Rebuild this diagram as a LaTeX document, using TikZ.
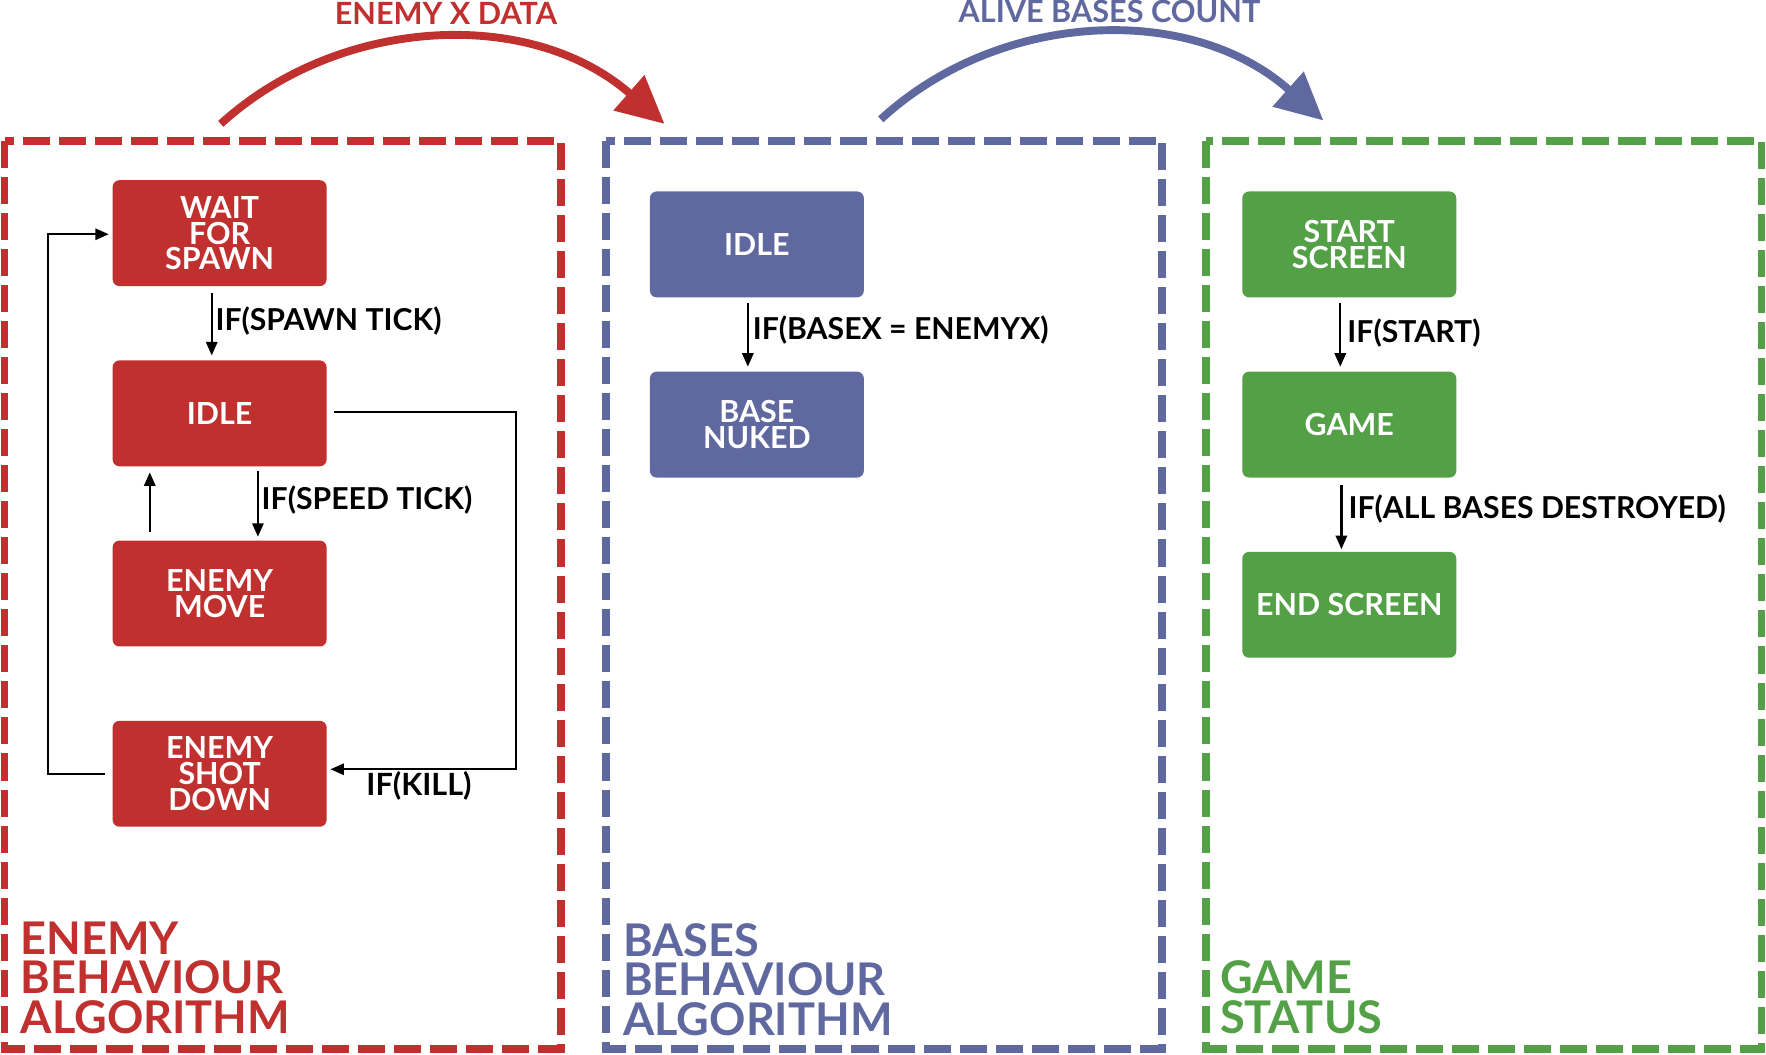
\documentclass[tikz,border=0pt]{standalone}
\usepackage{fontspec}
\setmainfont{Lato}
\usetikzlibrary{arrows.meta,calc}
\definecolor{cred}{HTML}{C0302F}
\definecolor{cblue}{HTML}{6068A0}
\definecolor{cgreen}{HTML}{53A047}
\tikzset{
 frame/.style={line width=3.5pt, dash pattern=on 12pt off 4pt},
 statebox/.style={rounded corners=3pt, minimum width=95pt, minimum height=47pt, text=white, align=center, font=\bfseries\fontsize{13.5}{11.5}\selectfont, inner sep=0pt},
 trans/.style={line width=1pt, -{Triangle[length=6pt,width=5pt]}},
 cond/.style={font=\bfseries\fontsize{13.4}{16}\selectfont, anchor=west, inner sep=0pt},
 bigarrow/.style={line width=3.5pt, -{Triangle[length=21pt,width=20pt]}},
 grouptitle/.style={font=\bfseries\fontsize{20}{17.5}\selectfont, align=left, anchor=south west, inner sep=0pt},
 flowlabel/.style={font=\bfseries\fontsize{13.6}{16}\selectfont, inner sep=0pt},
}
\begin{document}
\begin{tikzpicture}[x=0.5pt,y=-0.5pt]
\useasboundingbox (0,0) rectangle (1568,936);
% frames
\draw[frame, cred] (4,125) rectangle (498,931);
\draw[frame, cblue] (538,125) rectangle (1032,931);
\draw[frame, cgreen] (1071,125) rectangle (1564,931);

% red states
\node[statebox, fill=cred] (wait) at (195,207) {WAIT\\FOR\\SPAWN};
\node[statebox, fill=cred] (idle) at (195,367) {IDLE};
\node[statebox, fill=cred] (move) at (195,527) {ENEMY\\MOVE};
\node[statebox, fill=cred] (shot) at (195,687) {ENEMY\\SHOT\\DOWN};

% blue states
\node[statebox, fill=cblue] (bidle) at (672,217) {IDLE};
\node[statebox, fill=cblue] (bnuked) at (672,377) {BASE\\NUKED};

% green states
\node[statebox, fill=cgreen] (start) at (1198,217) {START\\SCREEN};
\node[statebox, fill=cgreen] (game) at (1198,377) {GAME};
\node[statebox, fill=cgreen] (endscr) at (1198,537) {END SCREEN};

% red transitions
\draw[trans] ($(wait.south)+(-7,6)$) -- ($(idle.north)+(-7,-4)$);
\node[cond] (l1) at (191,285) {IF(SPAWN TICK)};
\draw[trans] ($(idle.south)+(34,4)$) -- ($(move.north)+(34,-3)$);
\node[cond] (l2) at (232,444) {IF(SPEED TICK)};
\draw[trans] ($(move.north)+(-62,-7)$) -- ($(idle.south)+(-62,5)$);
\draw[trans] ($(idle.east)+(6,-1)$) -- ++(162,0) |- ($(shot.east)+(3,-4)$);
\node[flowlabel] (l3) at (372,698) {IF(KILL)};
\draw[trans] ($(shot.west)+(-6,0)$) -- ++(-51,0) |- ($(wait.west)+(-3,1)$);

% blue transition
\draw[trans] ($(bidle.south)+(-8,5)$) -- ($(bnuked.north)+(-8,-4)$);
\node[cond] (l4) at (668,293) {IF(BASEX = ENEMYX)};

% green transitions
\draw[trans] ($(start.south)+(-8,5)$) -- ($(game.north)+(-8,-4)$);
\node[cond] (l5) at (1196,296) {IF(START)};
\draw[trans] ($(game.south)+(-7,6)$) -- ($(endscr.north)+(-7,-2)$);
\node[cond] (l6) at (1197,452) {IF(ALL BASES DESTROYED)};

% group titles
\node[grouptitle, text=cred] (t1) at (18,918) {ENEMY\\BEHAVIOUR\\ALGORITHM};
\node[grouptitle, text=cblue] (t2) at (553,920) {BASES\\BEHAVIOUR\\ALGORITHM};
\node[grouptitle, text=cgreen] (t3) at (1083,918) {GAME\\STATUS};

% data flow arrows
\coordinate (rs) at (196,110);
\coordinate (rt) at (590,110);
\draw[bigarrow, cred] (rs) .. controls (300,15) and (470,5) .. (rt);
\node[flowlabel, text=cred] (d1) at (396,12) {ENEMY X DATA};
\coordinate (bs) at (782,106);
\coordinate (bt) at (1175,107);
\draw[bigarrow, cblue] (bs) .. controls (886,10) and (1056,1) .. (bt);
\node[flowlabel, text=cblue] (d2) at (985,10) {ALIVE BASES COUNT};
\end{tikzpicture}
\end{document}
